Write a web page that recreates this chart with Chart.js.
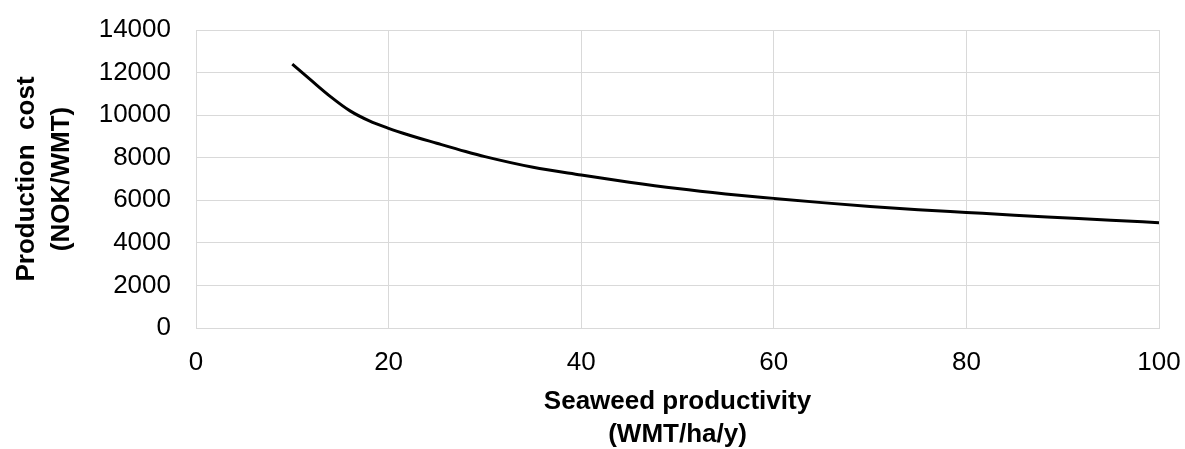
<!DOCTYPE html>
<html>
<head>
<meta charset="utf-8">
<script src="https://cdn.jsdelivr.net/npm/chart.js@4/dist/chart.umd.min.js"></script>
<style>
  html, body { margin: 0; padding: 0; background: #fff; }
  #wrap { width: 1185px; height: 449px; }
</style>
</head>
<body>
<div id="wrap"><canvas id="graph1"></canvas></div>
<script>
// productivity (WMT/ha/y) and cost (NOK/WMT)
const productivity = [10, 12, 14, 16, 18, 20, 22, 25, 28, 30, 35, 40, 45, 50, 55, 60, 65, 70, 75, 80, 85, 90, 95, 100];
const cost = [12400, 11620, 10860, 10200, 9730, 9380, 9080, 8680, 8290, 8050, 7550, 7190, 6850, 6550, 6300, 6090, 5890, 5710, 5560, 5430, 5300, 5180, 5060, 4950];
const xTicks = [0, 20, 40, 60, 80, 100];
const yTicks = [0, 2000, 4000, 6000, 8000, 10000, 12000, 14000];

const points = productivity.map((x, i) => ({ x: x, y: cost[i] }));
const fontFam = "'Liberation Sans', Arial, sans-serif";
const gridCol = "#d9d9d9";

const ctx = document.getElementById("graph1").getContext("2d");
const myChart = new Chart(ctx, {
  type: "scatter",
  data: {
    datasets: [
      {
        data: points,
        showLine: true,
        borderColor: "#000",
        borderWidth: 3,
        pointRadius: 0,
        cubicInterpolationMode: "monotone",
      },
    ],
  },
  options: {
    responsive: true,
    maintainAspectRatio: false,
    animation: false,
    layout: { padding: { top: 30, right: 26, left: 0, bottom: 0 } },
    plugins: { legend: { display: false }, tooltip: { enabled: false } },
    scales: {
      x: {
        type: "linear",
        min: 0,
        max: 100,
        afterBuildTicks: (axis) => { axis.ticks = xTicks.map((v) => ({ value: v })); },
        afterFit: (axis) => {
          axis.height = 121;
          axis.paddingLeft = 0;
          axis.paddingRight = 0;
        },
        grid: { color: gridCol, lineWidth: 1, drawTicks: false },
        border: { color: gridCol, width: 1 },
        ticks: {
          color: "#000",
          padding: 19,
          maxRotation: 0,
          font: { family: fontFam, size: 26 },
          callback: (v) => String(v),
        },
        title: {
          display: true,
          text: ["Seaweed productivity", "(WMT/ha/y)"],
          color: "#000",
          padding: { top: 0, bottom: -2 },
          font: { family: fontFam, size: 26, weight: "bold", lineHeight: "33px" },
        },
      },
      y: {
        type: "linear",
        min: 0,
        max: 14000,
        afterBuildTicks: (axis) => { axis.ticks = yTicks.map((v) => ({ value: v })); },
        afterFit: (axis) => {
          axis.width = 196;
          axis.paddingTop = 0;
          axis.paddingBottom = 0;
        },
        grid: { color: gridCol, lineWidth: 1, drawTicks: false },
        border: { color: gridCol, width: 1 },
        ticks: {
          color: "#000",
          padding: 25,
          font: { family: fontFam, size: 26 },
          callback: (v) => String(v),
        },
        title: {
          display: true,
          text: ["Production  cost", "(NOK/WMT)"],
          color: "#000",
          padding: { top: 9, bottom: 0 },
          font: { family: fontFam, size: 26, weight: "bold", lineHeight: "35px" },
        },
      },
    },
  },
});
</script>
</body>
</html>
